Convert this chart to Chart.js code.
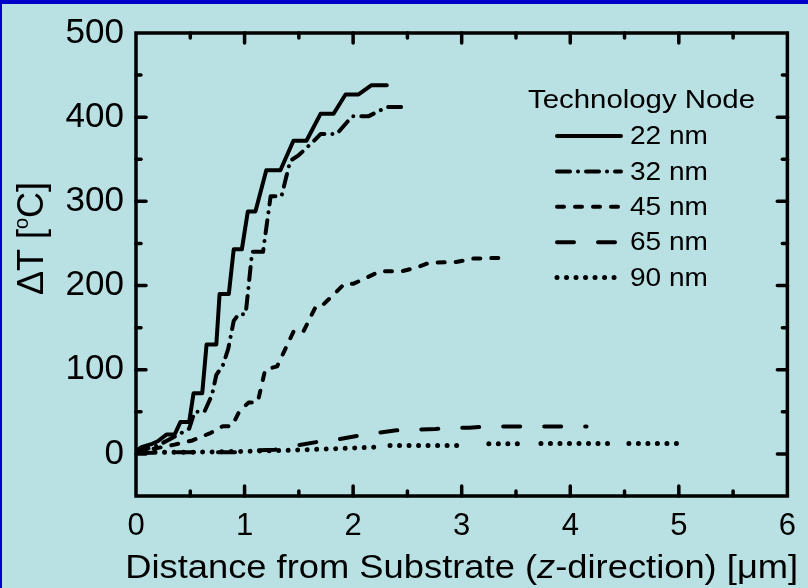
<!DOCTYPE html>
<html>
<head>
<meta charset="utf-8">
<script src="https://cdn.jsdelivr.net/npm/chart.js@4.4.1/dist/chart.umd.min.js"></script>
<style>
  html, body { margin: 0; padding: 0; background: #b9e0e3; }
  canvas { display: block; }
</style>
</head>
<body>
<canvas id="deltaTChart" width="808" height="588"></canvas>
<script>
const xTicks = [0, 1, 2, 3, 4, 5, 6];
const yTicks = [0, 100, 200, 300, 400, 500];
const nodeLabels = ['22 nm', '32 nm', '45 nm', '65 nm', '90 nm'];

const x22 = [0, 0.05, 0.15, 0.2, 0.28, 0.355, 0.41, 0.49, 0.53, 0.61, 0.65, 0.74, 0.77, 0.855, 0.9, 0.975, 1.03, 1.1, 1.2, 1.33, 1.45, 1.57, 1.7, 1.82, 1.93, 2.05, 2.17, 2.31];
const y22 = [3, 8, 12, 15, 23, 23, 38, 38, 72, 72, 130, 130, 190, 190, 243, 243, 288, 288, 337, 337, 372, 372, 404, 404, 427, 427, 438, 438];

const x32 = [0, 0.2, 0.35, 0.49, 0.54, 0.63, 0.7, 0.74, 0.8, 0.85, 0.9, 0.945, 1.01, 1.07, 1.17, 1.24, 1.34, 1.42, 1.5, 1.64, 1.7, 1.85, 1.99, 2.14, 2.31, 2.45];
const y32 = [2, 10, 20, 30, 50, 50, 70, 94, 105, 125, 158, 166, 166, 240, 240, 306, 306, 348, 355, 372, 380, 380, 401, 401, 412, 412];

const x45 = [0, 0.355, 0.52, 0.69, 0.8, 0.885, 0.95, 1.036, 1.12, 1.19, 1.3, 1.45, 1.54, 1.66, 1.73, 1.92, 2.0, 2.25, 2.45, 2.6, 2.7, 2.95, 3.1, 3.38];
const y45 = [2, 11, 16, 25, 33, 33, 50, 61, 61, 100, 104, 145, 145, 176, 178, 202, 202, 217, 217, 222, 227, 228, 232, 233];

const x65 = [0, 0.37, 0.92, 1.08, 1.28, 1.475, 1.66, 1.85, 2.02, 2.22, 2.4, 2.58, 2.76, 2.87, 3.07, 3.23, 4.15];
const y65 = [1, 2, 2, 4, 5, 10, 14, 17, 21, 25, 28, 29, 29.5, 31, 31, 32.6, 32.6];

// gaps (null) where the dotted line breaks in the original
const x90 = [0, 0.5, 1.0, 1.34, 1.8, 2.19, 2.26, 2.34, 2.67, 2.99, 3.1, 3.25, 3.54, 3.64, 3.73, 4.38, 4.46, 4.54, 5.02];
const y90 = [2, 2, 3, 4, 6, 8, null, 10, 10, 10, null, 12, 12, null, 12.5, 12.5, null, 12.5, 12.5];

const FONT = '"Liberation Sans", Arial, sans-serif';
const pts = (xs, ys) => xs.map((x, i) => ({ x: x, y: ys[i] }));

function series(label, xs, ys, dash, width) {
  return {
    label: label,
    data: pts(xs, ys),
    borderColor: '#000000',
    borderWidth: width || 4,
    borderDash: dash,
    borderCapStyle: 'round',
    borderJoinStyle: 'round',
    pointRadius: 0,
    tension: 0,
    fill: false,
    spanGaps: false,
  };
}

// text squeezed/stretched horizontally to a given width
function fitText(ctx, text, x, y, width) {
  const w = ctx.measureText(text).width;
  ctx.save();
  ctx.translate(x, y);
  ctx.scale(width / w, 1);
  ctx.fillText(text, 0, 0);
  ctx.restore();
}

const backdrop = {
  id: 'backdrop',
  beforeDraw(chart) {
    const ctx = chart.ctx;
    ctx.save();
    ctx.fillStyle = '#b9e0e3';
    ctx.fillRect(0, 0, chart.width, chart.height);
    ctx.fillStyle = '#0000c8';
    ctx.fillRect(0, 0, chart.width, 4);
    ctx.fillRect(0, 0, 2, chart.height);
    ctx.restore();
  },
};

const frame = {
  id: 'frame',
  afterDatasetsDraw(chart) {
    const ctx = chart.ctx;
    const a = chart.chartArea;
    const xs = chart.scales.x, ys = chart.scales.y;
    ctx.save();
    ctx.strokeStyle = '#000000';
    ctx.lineWidth = 3.5;
    ctx.lineJoin = 'miter';
    ctx.strokeRect(a.left, a.top, a.right - a.left, a.bottom - a.top);
    ctx.lineCap = 'round';
    const tick = (x1, y1, x2, y2) => { ctx.beginPath(); ctx.moveTo(x1, y1); ctx.lineTo(x2, y2); ctx.stroke(); };
    for (let v = 0.5; v < 6; v += 0.5) {
      const px = xs.getPixelForValue(v);
      const len = Number.isInteger(v) ? 10 : 5;
      tick(px, a.bottom, px, a.bottom - len);
      tick(px, a.top, px, a.top + len);
    }
    for (let v = 0; v < 500; v += 50) {
      const py = ys.getPixelForValue(v);
      const len = v % 100 === 0 ? 10 : 5;
      tick(a.left, py, a.left + len, py);
      tick(a.right, py, a.right - len, py);
    }
    ctx.restore();
  },
  afterDraw(chart) {
    const ctx = chart.ctx;
    const a = chart.chartArea;
    ctx.save();
    ctx.fillStyle = '#000000';
    ctx.textBaseline = 'alphabetic';

    // x axis title with italic z, stretched to the original's width
    const parts = [
      ['Distance from Substrate (', 'normal'],
      ['z', 'italic'],
      ['-direction) [', 'normal'],
      ['\u03bc', 'normal'],
      ['m]', 'normal'],
    ];
    let total = 0;
    parts.forEach(p => { ctx.font = p[1] + ' 34px ' + FONT; total += ctx.measureText(p[0]).width; });
    const targetW = 673;
    ctx.save();
    ctx.translate((a.left + a.right) / 2 - targetW / 2, 578);
    ctx.scale(targetW / total, 1);
    let x = 0;
    parts.forEach(p => {
      ctx.font = p[1] + ' 34px ' + FONT;
      ctx.fillText(p[0], x, 0);
      x += ctx.measureText(p[0]).width;
    });
    ctx.restore();

    // y axis title with superscript o
    ctx.translate(43, (a.top + a.bottom) / 2 - 26);
    ctx.rotate(-Math.PI / 2);
    const big = '36px ' + FONT, small = '20px ' + FONT;
    ctx.font = big; const w1 = ctx.measureText('\u0394T [').width;
    ctx.font = small; const w2 = ctx.measureText('o').width;
    ctx.font = big; const w3 = ctx.measureText('C]').width;
    let tx = -(w1 + w2 + w3) / 2;
    ctx.font = big; ctx.fillText('\u0394T [', tx, 0); tx += w1;
    ctx.font = small; ctx.fillText('o', tx, -15); tx += w2;
    ctx.font = big; ctx.fillText('C]', tx, 0);
    ctx.restore();

    // legend
    ctx.save();
    ctx.fillStyle = '#000000';
    ctx.font = '26px ' + FONT;
    ctx.textAlign = 'left';
    ctx.textBaseline = 'middle';
    fitText(ctx, 'Technology Node', 528, 101, 227);
    chart.data.datasets.forEach((ds, i) => {
      const y = 136 + i * 35.4;
      ctx.strokeStyle = '#000000';
      ctx.lineWidth = ds.borderWidth;
      ctx.lineCap = 'round';
      ctx.setLineDash(ds.borderDash || []);
      ctx.beginPath();
      ctx.moveTo(557, y);
      ctx.lineTo(621, y);
      ctx.stroke();
      ctx.setLineDash([]);
      fitText(ctx, ds.label, 630, y + 1, 78);
    });
    ctx.restore();
  },
};

new Chart(document.getElementById('deltaTChart').getContext('2d'), {
  type: 'line',
  data: {
    datasets: [
      series(nodeLabels[0], x22, y22, [], 4),
      series(nodeLabels[1], x32, y32, [13, 8, 0.01, 8], 4),
      series(nodeLabels[2], x45, y45, [7, 11], 4),
      series(nodeLabels[3], x65, y65, [17, 24], 4),
      series(nodeLabels[4], x90, y90, [0.01, 9.5], 5),
    ],
  },
  options: {
    responsive: false,
    animation: false,
    layout: { padding: { left: 2, top: 32, right: 12, bottom: 0 } },
    plugins: {
      legend: { display: false },
      tooltip: { enabled: false },
    },
    scales: {
      x: {
        type: 'linear',
        min: 0,
        max: 6,
        afterBuildTicks: (s) => { s.ticks = xTicks.map(v => ({ value: v })); },
        afterFit: (s) => { s.height = 92; },
        grid: { display: false, drawTicks: false },
        border: { display: false },
        ticks: {
          color: '#000000',
          font: { family: FONT, size: 31 },
          padding: 12,
          maxRotation: 0,
        },
      },
      y: {
        type: 'linear',
        min: -50,
        max: 500,
        afterBuildTicks: (s) => { s.ticks = yTicks.map(v => ({ value: v })); },
        afterFit: (s) => { s.width = 134; },
        grid: { display: false, drawTicks: false },
        border: { display: false },
        ticks: {
          color: '#000000',
          font: { family: FONT, size: 35 },
          padding: 12,
        },
      },
    },
  },
  plugins: [backdrop, frame],
});
</script>
</body>
</html>
